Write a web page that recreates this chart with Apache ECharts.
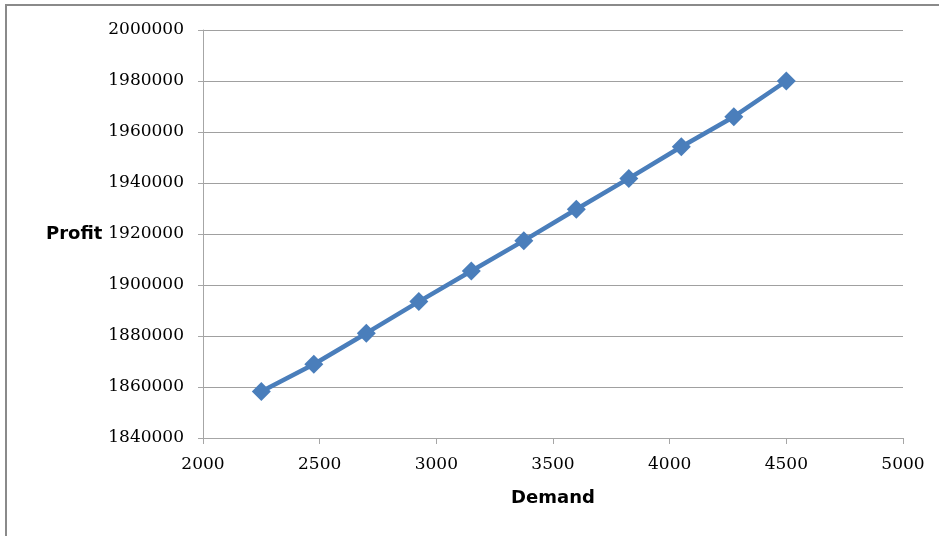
<!DOCTYPE html>
<html>
<head>
<meta charset="utf-8">
<script src="https://cdn.jsdelivr.net/npm/echarts@6/dist/echarts.min.js"></script>
<style>
html,body{margin:0;padding:0;background:#fff;}
#chart{width:939px;height:536px;}
</style>
</head>
<body>
<div id="chart"></div>
<script>
const demand = [2250, 2475, 2700, 2925, 3150, 3375, 3600, 3825, 4050, 4275, 4500];
const profit = [1858200, 1868900, 1881100, 1893500, 1905500, 1917400, 1929700, 1941800, 1954200, 1966000, 1980000];
const xAxisName = 'Demand';
const yAxisName = 'Profit';

const points = demand.map((d, i) => [d, profit[i]]);
const chart = echarts.init(document.getElementById('chart'));
const labelFont = { fontFamily: 'DejaVu Serif', fontSize: 17, color: '#000', formatter: v => String(v) };
chart.setOption({
  animation: false,
  backgroundColor: '#fff',
  graphic: [{
    type: 'rect',
    shape: { x: 6, y: 5, width: 1200, height: 1200 },
    style: { fill: 'none', stroke: '#8a8a8a', lineWidth: 2 },
    silent: true
  }],
  grid: { left: 203, right: 36, top: 30, bottom: 98 },
  xAxis: {
    type: 'value',
    min: 2000, max: 5000, interval: 500,
    name: xAxisName,
    nameLocation: 'middle',
    nameGap: 51,
    nameTextStyle: { fontFamily: 'DejaVu Sans', fontWeight: 'bold', fontSize: 18, color: '#000' },
    axisLine: { show: true, lineStyle: { color: '#a6a6a6', width: 1 } },
    axisTick: { show: true, length: 6, lineStyle: { color: '#a6a6a6' } },
    axisLabel: Object.assign({ margin: 18 }, labelFont),
    splitLine: { show: false }
  },
  yAxis: {
    type: 'value',
    min: 1840000, max: 2000000, interval: 20000,
    name: yAxisName,
    nameLocation: 'middle',
    nameRotate: 0,
    nameGap: 100,
    nameTextStyle: { fontFamily: 'DejaVu Sans', fontWeight: 'bold', fontSize: 18, color: '#000', padding: [4, 0, 0, 0] },
    axisLine: { show: true, lineStyle: { color: '#a6a6a6', width: 1 } },
    axisTick: { show: true, length: 5, lineStyle: { color: '#a6a6a6' } },
    axisLabel: Object.assign({ margin: 19, padding: [6, 0, 0, 0] }, labelFont),
    splitLine: { show: true, lineStyle: { color: '#a0a0a0', width: 1 } }
  },
  series: [{
    type: 'line',
    data: points,
    symbol: 'diamond',
    symbolSize: 19,
    lineStyle: { color: '#4a7ebb', width: 4.5 },
    itemStyle: { color: '#4a7ebb' },
    smooth: false
  }]
});
</script>
</body>
</html>
